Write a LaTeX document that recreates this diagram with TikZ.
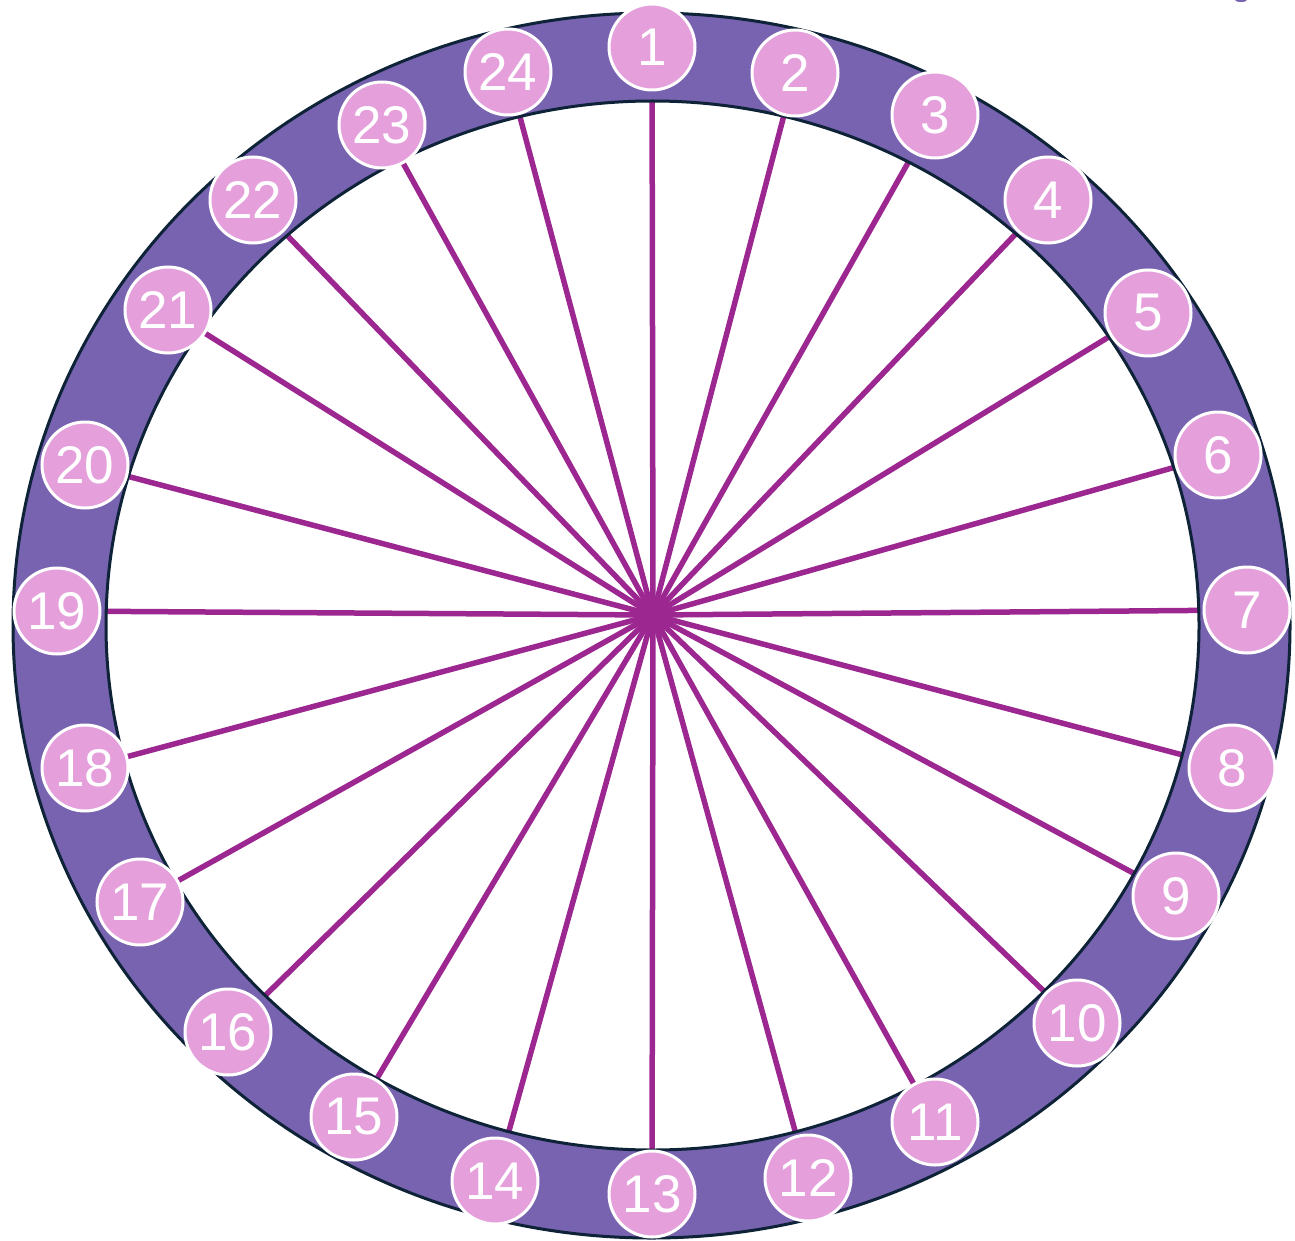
\documentclass[tikz,border=0pt]{standalone}
\usepackage{fontspec}
\setmainfont{Liberation Sans}
\definecolor{ringc}{HTML}{7763AF}
\definecolor{edgec}{HTML}{0E2338}
\definecolor{spokec}{HTML}{9C2790}
\definecolor{dotc}{HTML}{E5A0DC}
\begin{document}
\begin{tikzpicture}[x=1pt,y=-1pt,
  num/.style={circle, minimum size=86pt, inner sep=0pt, draw=white, line width=3pt, fill=dotc, text=white, font=\fontsize{53}{53}\selectfont},
  spoke/.style={draw=spokec, line width=5.5pt}]
\useasboundingbox (0,0) rectangle (1295,1241);
\coordinate (c) at (653,615);
% positions
\foreach \n/\x/\y in {1/652/47, 2/795/73, 3/935/115, 4/1048/200, 5/1148/313, 6/1218/455,
  7/1247/610, 8/1232/768, 9/1176/896, 10/1077/1023, 11/935/1122, 12/808/1178,
  13/652/1194, 14/495/1181, 15/354/1117, 16/228/1032, 17/140/902, 18/85/768,
  19/57/611, 20/85/465, 21/168/310, 22/253/200, 23/382/125, 24/508/72}{
  \coordinate (p\n) at (\x,\y);
  \draw[spoke] (c) -- (p\n);
}
% ring
\fill[ringc, even odd rule] (651.5,625.5) ellipse [x radius=638.5pt, y radius=612.5pt]
  (652.5,625.5) ellipse [x radius=546.5pt, y radius=524.5pt];
\draw[edgec, line width=3pt] (651.5,625.5) ellipse [x radius=638.5pt, y radius=612.5pt];
\draw[edgec, line width=3pt] (652.5,625.5) ellipse [x radius=546.5pt, y radius=524.5pt];
% tiny mark top right
\fill[ringc] (1241,0) ellipse [x radius=6pt, y radius=2pt];
% numbered dots
\foreach \n in {1,...,24}{
  \node[num] (n\n) at (p\n) {\n};
}
\end{tikzpicture}
\end{document}
